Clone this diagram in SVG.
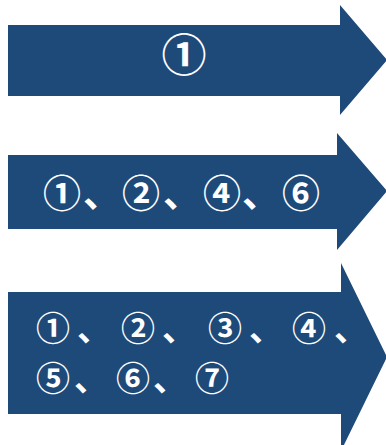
<svg xmlns="http://www.w3.org/2000/svg" width="386" height="445" viewBox="0 0 386 445">
<style>
.arrow{fill:#1e4a7a}
.t{font-family:"Noto Sans CJK JP","Noto Sans CJK SC",sans-serif;font-weight:bold;fill:#ffffff;text-anchor:middle}
.r{font-size:38px}
.s{font-size:34px}
</style>
<rect width="386" height="445" fill="#ffffff"/>
<g id="arrow1">
<polygon class="arrow" points="8,25 340,25 340,5 387,60 340,115 340,96 8,96"/>
<text class="t" x="184" y="72" font-size="45">①</text>
</g>
<g id="arrow2">
<polygon class="arrow" points="8,155 337,155 337,133 387,191 337,250 337,229 8,229"/>
<text class="t r" x="62 102 141 182 222 261 301" y="207">①、②、④、⑥</text>
</g>
<g id="arrow3">
<polygon class="arrow" points="8,292 341,292 341,263 387,357 341,451 341,414 8,414"/>
<text class="t s" x="53 94 138 179 225 266 309 351" y="341">①、②、③、④、</text>
<text class="t s" x="53 91 133 170 212" y="391">⑤、⑥、⑦</text>
</g>
<g id="connectors"/>
</svg>
